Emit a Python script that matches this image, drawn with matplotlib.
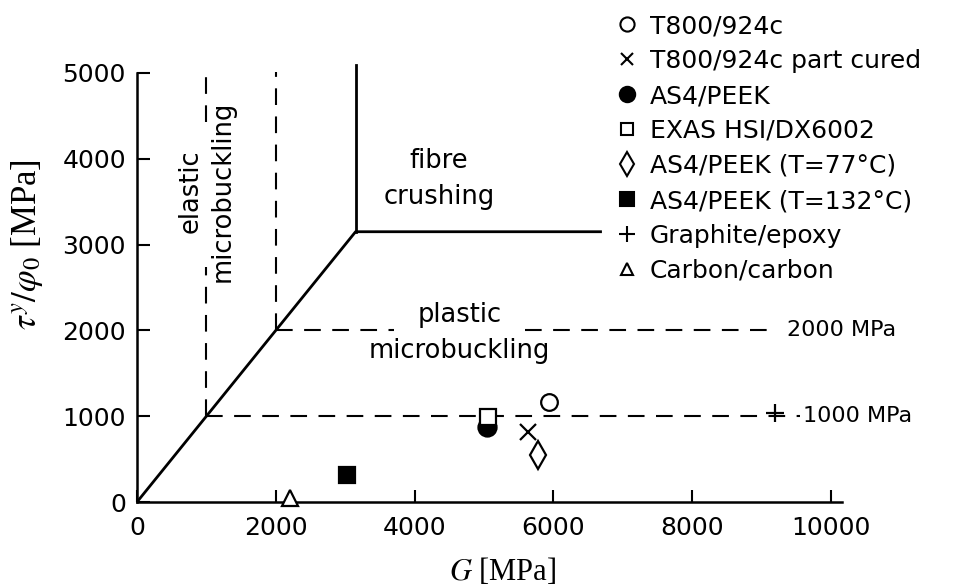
import matplotlib
matplotlib.use("Agg")
import matplotlib.pyplot as plt
from matplotlib.lines import Line2D

plt.rcParams['font.family'] = ['DejaVu Sans']
plt.rcParams['mathtext.fontset'] = 'stix'

# failure-mode boundaries (G, tau/phi0) in MPa
kink_path_g = [0, 1000, 2000, 3150, 6700]
kink_path_t = [0, 1000, 2000, 3150, 3150]
crush_g = [3150, 3150]
crush_t = [3150, 5090]

# measured compressive strengths
materials = ["T800/924c", "T800/924c part cured", "AS4/PEEK", "EXAS HSI/DX6002",
             "AS4/PEEK (T=77°C)", "AS4/PEEK (T=132°C)", "Graphite/epoxy", "Carbon/carbon"]
shear_mod = [5940, 5630, 5040, 5060, 5780, 3030, 9200, 2200]
strength = [1170, 815, 875, 990, 550, 315, 1040, 45]
markers = ["o", "x", "o", "s", "d", "s", "+", "^"]
filled = [False, False, True, False, False, True, False, False]
sizes = [12, 11, 13, 11, 14, 12, 13, 11]

x_ticks = [0, 2000, 4000, 6000, 8000, 10000]
y_ticks = [0, 1000, 2000, 3000, 4000, 5000]

fig = plt.figure(figsize=(9.6, 5.88), dpi=100)
ax = fig.add_axes([137 / 960, 1 - 502 / 588, 705 / 960, 429 / 588])

lw = 2.0
dash = (0, (8, 5.5))

ax.plot(kink_path_g, kink_path_t, color="black", lw=lw, clip_on=False, solid_capstyle="butt")
ax.plot(crush_g, crush_t, color="black", lw=lw, clip_on=False)

# dashed yield-stress lines and elastic/plastic borders (broken where text sits)
ax.plot([1000, 9550], [1000, 1000], color="black", lw=1.5, ls=dash)
ax.plot([2000, 3700], [2000, 2000], color="black", lw=1.5, ls=dash)
ax.plot([5590, 9150], [2000, 2000], color="black", lw=1.5, ls=dash)
ax.plot([1000, 1000], [1000, 2740], color="black", lw=1.5, ls=dash)
ax.plot([1000, 1000], [4430, 5010], color="black", lw=1.5, ls=dash, clip_on=False)
ax.plot([2000, 2000], [2000, 5010], color="black", lw=1.5, ls=dash, clip_on=False)

handles = []
for g, t, m, f, s, lab in zip(shear_mod, strength, markers, filled, sizes, materials):
    face = "black" if f else "white"
    ax.plot(g, t, marker=m, ms=s, mfc=face, mec="black", mew=1.6, ls="none",
            clip_on=False, zorder=5)
    handles.append(Line2D([], [], marker=m, ms=s * 0.85, mfc=face, mec="black",
                          mew=1.5, ls="none", label=lab))

ax.text(9370, 2000, "2000 MPa", fontsize=16, va="center", ha="left")
ax.text(9600, 1000, "1000 MPa", fontsize=16, va="center", ha="left")
ax.text(4350, 3760, "fibre\ncrushing", fontsize=18.5, ha="center", va="center",
        linespacing=1.5)
ax.text(4650, 1975, "plastic\nmicrobuckling", fontsize=18.5, ha="center", va="center",
        linespacing=1.5)
ax.text(1000, 3620, "elastic\nmicrobuckling", fontsize=18.5, ha="center", va="center",
        rotation=90, linespacing=1.3)

ax.set_xlim(0, 10160)
ax.set_ylim(0, 5000)
ax.set_xticks(x_ticks)
ax.set_yticks(y_ticks)
ax.tick_params(direction="in", length=9, width=1.5, labelsize=18)
ax.tick_params(axis="x", pad=10)
ax.tick_params(axis="y", pad=8)
for side in ["top", "right"]:
    ax.spines[side].set_visible(False)
for side in ["left", "bottom"]:
    ax.spines[side].set_linewidth(1.8)

ax.set_xlabel("$G$ [MPa]", fontsize=22, family="Liberation Serif")
ax.xaxis.set_label_coords(0.519, -0.125)
ax.set_ylabel(r"$\tau^y/\varphi_0$ [MPa]", fontsize=25, family="Liberation Serif")
ax.yaxis.set_label_coords(-0.13, 0.6)

fig.legend(handles=handles, loc="upper left", bbox_to_anchor=(607 / 960, 1 - 4 / 588),
           frameon=False, fontsize=18, handlelength=0.8, handletextpad=0.5,
           labelspacing=0.44, borderaxespad=0)

fig.savefig("out.png", dpi=100)
